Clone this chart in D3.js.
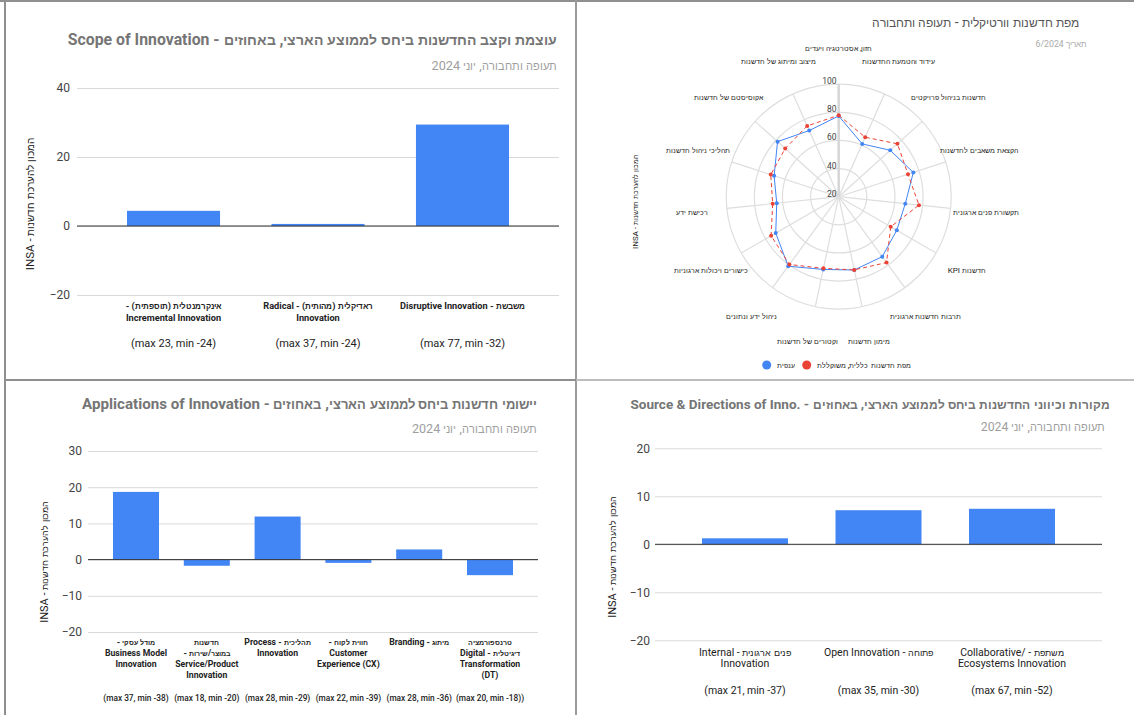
<!DOCTYPE html>
<html>
<head>
<meta charset="utf-8">
<script src="https://cdn.jsdelivr.net/npm/d3@7"></script>
<style>
  /* Hebrew glyphs come from Liberation Sans, set a little tighter than the Latin face */
  @font-face { font-family: "HebSans"; src: local("Liberation Sans"), local("LiberationSans");
               unicode-range: U+0590-05FF, U+FB1D-FB4F; font-weight: 400; size-adjust: 86%; }
  @font-face { font-family: "HebSans"; src: local("Liberation Sans Bold"), local("LiberationSans-Bold");
               unicode-range: U+0590-05FF, U+FB1D-FB4F; font-weight: 700; size-adjust: 86%; }
  body { margin: 0; background: #fff; }
  svg { display: block; font-family: Roboto, HebSans, "Liberation Sans", Arial, sans-serif; }
</style>
</head>
<body>
<svg id="dash" width="1134" height="715"></svg>
<script>
// ---------- data ----------
const subtitleText = "תעופה ותחבורה, יוני 2024";
const axisTitle = "המכון להערכת חדשנות - INSA";

// Scope of Innovation
const scopeTitle = "עוצמת וקצב החדשנות ביחס לממוצע הארצי, באחוזים - Scope of Innovation";
const scopeLabels = [
  ["אינקרמנטלית (תוספתית) -", "Incremental Innovation"],
  ["ראדיקלית (מהותית) - Radical", "Innovation"],
  ["משבשת - Disruptive Innovation"]
];
const scopeRanges = ["(max 23, min -24)", "(max 37, min -24)", "(max 77, min -32)"];
const scopeValues = [4.4, 0.6, 29.4];
const scopeTicks = [-20, 0, 20, 40];

// Applications of Innovation
const appTitle = "יישומי חדשנות ביחס לממוצע הארצי, באחוזים - Applications of Innovation";
const appLabels = [
  ["מודל עסקי -", "Business Model", "Innovation"],
  ["חדשנות", "במוצר/שירות -", "Service/Product", "Innovation"],
  ["תהליכית - Process", "Innovation"],
  ["חווית לקוח -", "Customer", "Experience (CX)"],
  ["מיתוג - Branding"],
  ["טרנספורמציה", "דיגיטלית - Digital", "Transformation", "(DT)"]
];
const appRanges = ["(max 37, min -38)", "(max 18, min -20)", "(max 28, min -29)",
                   "(max 22, min -39)", "(max 28, min -36)", "(max 20, min -18))"];
const appValues = [18.7, -1.7, 11.9, -0.9, 2.8, -4.3];
const appTicks = [-20, -10, 0, 10, 20, 30];

// Source & Directions of Innovation
const srcTitle = "מקורות וכיווני החדשנות ביחס לממוצע הארצי, באחוזים - Source & Directions of Inno.\u200E";
const srcLabels = [
  ["פנים ארגונית - Internal", "Innovation"],
  ["פתוחה - Open Innovation"],
  ["משתפת - Collaborative/\u200E", "Ecosystems Innovation"]
];
const srcRanges = ["(max 21, min -37)", "(max 35, min -30)", "(max 67, min -52)"];
const srcValues = [1.25, 7.1, 7.4];
const srcTicks = [-20, -10, 0, 10, 20];

// Vertical innovation map (radar)
const radarTitle = "מפת חדשנות וורטיקלית - תעופה ותחבורה";
const radarSubtitle = "תאריך 6/2024";
const radarAxes = [
  "חזון, אסטרטגיה ויעדים",
  "עידוד והטמעת החדשנות",
  "חדשנות בניהול פרויקטים",
  "הקצאת משאבים לחדשנות",
  "תקשורת פנים ארגונית",
  "חדשנות KPI",
  "תרבות חדשנות ארגונית",
  "מימון חדשנות",
  "וקטורים של חדשנות",
  "ניהול ידע ונתונים",
  "כישורים ויכולות ארגוניות",
  "רכישת ידע",
  "תהליכי ניהול חדשנות",
  "אקוסיסטם של חדשנות",
  "מיצוב ומיתוג של חדשנות"
];
const radarSeries = ["ענפית", "מפת חדשנות כללית, משוקללת"];
const sectorValues  = [77.4, 61.1, 69.3, 75.8, 67.6, 67.7, 72.7, 73.3, 72.9, 81.1, 71.7, 64.3, 68.3, 78.5, 71.5];
const generalValues = [77.9, 66.3, 76.2, 71.8, 77.4, 62.7, 77.9, 73.2, 72.1, 79.6, 75.5, 67.2, 70.8, 71.2, 75.1];
const radarTicks = [20, 40, 60, 80, 100];

// ---------- helpers ----------
const svg = d3.select("#dash");
const BLUE = "#4285f4", RED = "#ea4335";
const isHeb = s => /[\u0590-\u05FF]/.test(s);

function addText(g, str, x, y, o) {
  return g.append("text")
    .attr("x", x).attr("y", y)
    .attr("direction", isHeb(str) ? "rtl" : "ltr")
    .attr("text-anchor", "middle")
    .attr("dominant-baseline", "central")
    .style("font-size", o.size + "px")
    .style("font-weight", o.weight || 400)
    .attr("fill", o.color || "#222")
    .text(str);
}
function alignRight(t, xr) {
  const b = t.node().getBBox();
  t.attr("x", +t.attr("x") + (xr - (b.x + b.width)));
}
function alignLeft(t, xl) {
  const b = t.node().getBBox();
  t.attr("x", +t.attr("x") + (xl - b.x));
}
// scale the font so the rendered line spans the given width
function fitWidth(t, w) {
  for (let k = 0; k < 3; k++) {
    const len = t.node().getBBox().width;
    const fs = parseFloat(t.style("font-size"));
    t.style("font-size", (fs * w / len) + "px");
  }
}

function draw() {
// ---------- panel frame ----------
const frame = svg.append("g");
frame.append("line").attr("x1", 0).attr("x2", 1134).attr("y1", 1).attr("y2", 1).attr("stroke", "#8f8f8f").attr("stroke-width", 2);
frame.append("line").attr("x1", 5).attr("x2", 5).attr("y1", 0).attr("y2", 715).attr("stroke", "#8f8f8f").attr("stroke-width", 2);
frame.append("line").attr("x1", 576).attr("x2", 576).attr("y1", 0).attr("y2", 715).attr("stroke", "#9a9a9a").attr("stroke-width", 2);
frame.append("line").attr("x1", 5).attr("x2", 576).attr("y1", 380).attr("y2", 380).attr("stroke", "#8f8f8f").attr("stroke-width", 2);
frame.append("line").attr("x1", 576).attr("x2", 1134).attr("y1", 380).attr("y2", 380).attr("stroke", "#bdbdbd").attr("stroke-width", 2);

// ---------- column chart ----------
function barPanel(c) {
  const g = svg.append("g");

  const title = addText(g, c.title, 0, c.titleY, { size: 16, weight: 700, color: "#757575" });
  fitWidth(title, c.titleW);
  alignRight(title, c.titleRight);
  const sub = addText(g, subtitleText, 0, c.subY, { size: 13, color: "#9e9e9e" });
  fitWidth(sub, c.subW);
  alignRight(sub, c.subRight);

  const y = d3.scaleLinear().domain(d3.extent(c.ticks)).range([c.bottom, c.top]);
  const x = d3.scaleBand().domain(d3.range(c.values.length))
    .range([c.left, c.right]).paddingInner(c.pi).paddingOuter(c.po);

  const axis = g.append("g").attr("transform", `translate(${c.left},0)`)
    .call(d3.axisLeft(y).tickValues(c.ticks).tickFormat(d3.format("d"))
      .tickSize(-(c.right - c.left)).tickPadding(c.tickPad));
  axis.select(".domain").remove();
  axis.selectAll(".tick line").attr("stroke", "#d9d9d9");
  axis.selectAll(".tick text").attr("fill", "#444").style("font-size", "12px")
    .style("font-family", 'Roboto, "Liberation Sans", Arial, sans-serif');

  g.selectAll("rect.bar").data(c.values).join("rect").attr("class", "bar")
    .attr("x", (d, i) => x(i))
    .attr("width", x.bandwidth())
    .attr("y", d => Math.min(y(d), y(0)))
    .attr("height", d => Math.abs(y(d) - y(0)))
    .attr("fill", BLUE);

  g.append("line").attr("x1", c.left).attr("x2", c.right)
    .attr("y1", y(0)).attr("y2", y(0)).attr("stroke", "#333").attr("stroke-width", 1);

  c.labels.forEach((lines, i) => {
    const cx = x(i) + x.bandwidth() / 2;
    lines.forEach((ln, j) => {
      addText(g, ln, cx, c.labelY + j * c.lineH, { size: c.labelSize, weight: c.labelWeight, color: "#222" });
    });
    addText(g, c.ranges[i], cx, c.rangeY, { size: c.rangeSize, weight: c.rangeWeight || 400, color: "#222" });
  });

  g.append("text")
    .attr("transform", `translate(${c.yTitleX},${c.yTitleY}) rotate(-90)`)
    .attr("direction", "rtl").attr("text-anchor", "middle").attr("dominant-baseline", "central")
    .style("font-size", c.yTitleSize + "px").attr("fill", "#222").text(axisTitle);
}

barPanel({
  title: scopeTitle, titleY: 39, titleW: 481, titleRight: 557, subY: 65, subW: 125, subRight: 557,
  values: scopeValues, labels: scopeLabels, ranges: scopeRanges, ticks: scopeTicks,
  left: 77, right: 559, top: 88, bottom: 295, pi: 0.356, po: 0.346, tickPad: 7,
  labelY: 305, lineH: 12, labelSize: 9.2, labelWeight: 700, rangeY: 343, rangeSize: 11,
  yTitleX: 30, yTitleY: 204, yTitleSize: 11.5
});

barPanel({
  title: appTitle, titleY: 404, titleW: 456, titleRight: 537, subY: 428, subW: 121, subRight: 537,
  values: appValues, labels: appLabels, ranges: appRanges, ticks: appTicks,
  left: 88, right: 538, top: 451, bottom: 632, pi: 0.35, po: 0.353, tickPad: 6,
  labelY: 642, lineH: 11, labelSize: 8.7, labelWeight: 700, rangeY: 698, rangeSize: 8.3, rangeWeight: 500,
  yTitleX: 44, yTitleY: 562, yTitleSize: 11
});

barPanel({
  title: srcTitle, titleY: 404, titleW: 478, titleRight: 1110, subY: 427, subW: 120, subRight: 1105,
  values: srcValues, labels: srcLabels, ranges: srcRanges, ticks: srcTicks,
  left: 655, right: 1102, top: 448.3, bottom: 640.3, pi: 0.356, po: 0.352, tickPad: 5,
  labelY: 652, lineH: 11.6, labelSize: 10.5, labelWeight: 400, rangeY: 690, rangeSize: 10.5,
  yTitleX: 612, yTitleY: 557, yTitleSize: 11
});

// ---------- radar ----------
(function radar() {
  const g = svg.append("g");
  const cx = 838.7, cy = 196.7, R = 112.5;
  const r = d3.scaleLinear().domain([20, 100]).range([0, R]);
  const n = radarAxes.length;
  const ang = i => i * 2 * Math.PI / n;

  const t = addText(g, radarTitle, 0, 22, { size: 14, weight: 400, color: "#555" });
  fitWidth(t, 207);
  alignRight(t, 1079);
  const s = addText(g, radarSubtitle, 0, 44, { size: 11, color: "#aaa" });
  fitWidth(s, 50);
  alignRight(s, 1087);

  const plot = g.append("g").attr("transform", `translate(${cx},${cy})`);
  plot.selectAll("circle.ring").data(radarTicks.slice(1)).join("circle").attr("class", "ring")
    .attr("r", d => r(d)).attr("fill", "none").attr("stroke", "#dedede").attr("stroke-width", 1.2);
  plot.selectAll("line.spoke").data(d3.range(1, n)).join("line").attr("class", "spoke")
    .attr("x1", 0).attr("y1", 0)
    .attr("x2", i => R * Math.sin(ang(i))).attr("y2", i => -R * Math.cos(ang(i)))
    .attr("stroke", "#dedede").attr("stroke-width", 1.2);
  plot.append("line").attr("x1", 0).attr("y1", 0).attr("x2", 0).attr("y2", -R)
    .attr("stroke", "#d6d6d6").attr("stroke-width", 2.5);

  radarTicks.forEach(v => {
    const tl = addText(g, String(v), 0, cy - r(v) - 3, { size: 8.5, color: "#444" });
    alignRight(tl, cx - 2);
  });

  radarAxes.forEach((name, i) => {
    const rr = 148;
    addText(g, name, cx + rr * Math.sin(ang(i)), cy - rr * Math.cos(ang(i)), { size: 8, color: "#222" });
  });

  const line = d3.lineRadial().angle((d, i) => ang(i)).radius(d => r(d)).curve(d3.curveLinearClosed);

  [[sectorValues, BLUE, null], [generalValues, RED, "4,3"]].forEach(([vals, col, dash]) => {
    plot.append("path").attr("d", line(vals)).attr("fill", "none")
      .attr("stroke", col).attr("stroke-width", 1).attr("stroke-dasharray", dash);
    plot.selectAll(null).data(vals).join("circle")
      .attr("cx", (d, i) => r(d) * Math.sin(ang(i)))
      .attr("cy", (d, i) => -r(d) * Math.cos(ang(i)))
      .attr("r", 2).attr("fill", col);
  });

  // legend
  const lg = [[766.7, BLUE, radarSeries[0]], [806.7, RED, radarSeries[1]]];
  lg.forEach(([x, col, name]) => {
    g.append("circle").attr("cx", x).attr("cy", 365).attr("r", 4.5).attr("fill", col);
    const lt = addText(g, name, 0, 365, { size: 8.5, color: "#222" });
    alignLeft(lt, x + 10);
  });

  g.append("text")
    .attr("transform", `translate(635,202) rotate(-90)`)
    .attr("direction", "rtl").attr("text-anchor", "middle").attr("dominant-baseline", "central")
    .style("font-size", "8px").attr("fill", "#222").text(axisTitle);
})();
}

// wait for the Hebrew face so measured widths are final
document.fonts.load('700 16px HebSans', 'א').then(() => document.fonts.load('400 16px HebSans', 'א'))
  .catch(() => {}).then(draw);
</script>
</body>
</html>
